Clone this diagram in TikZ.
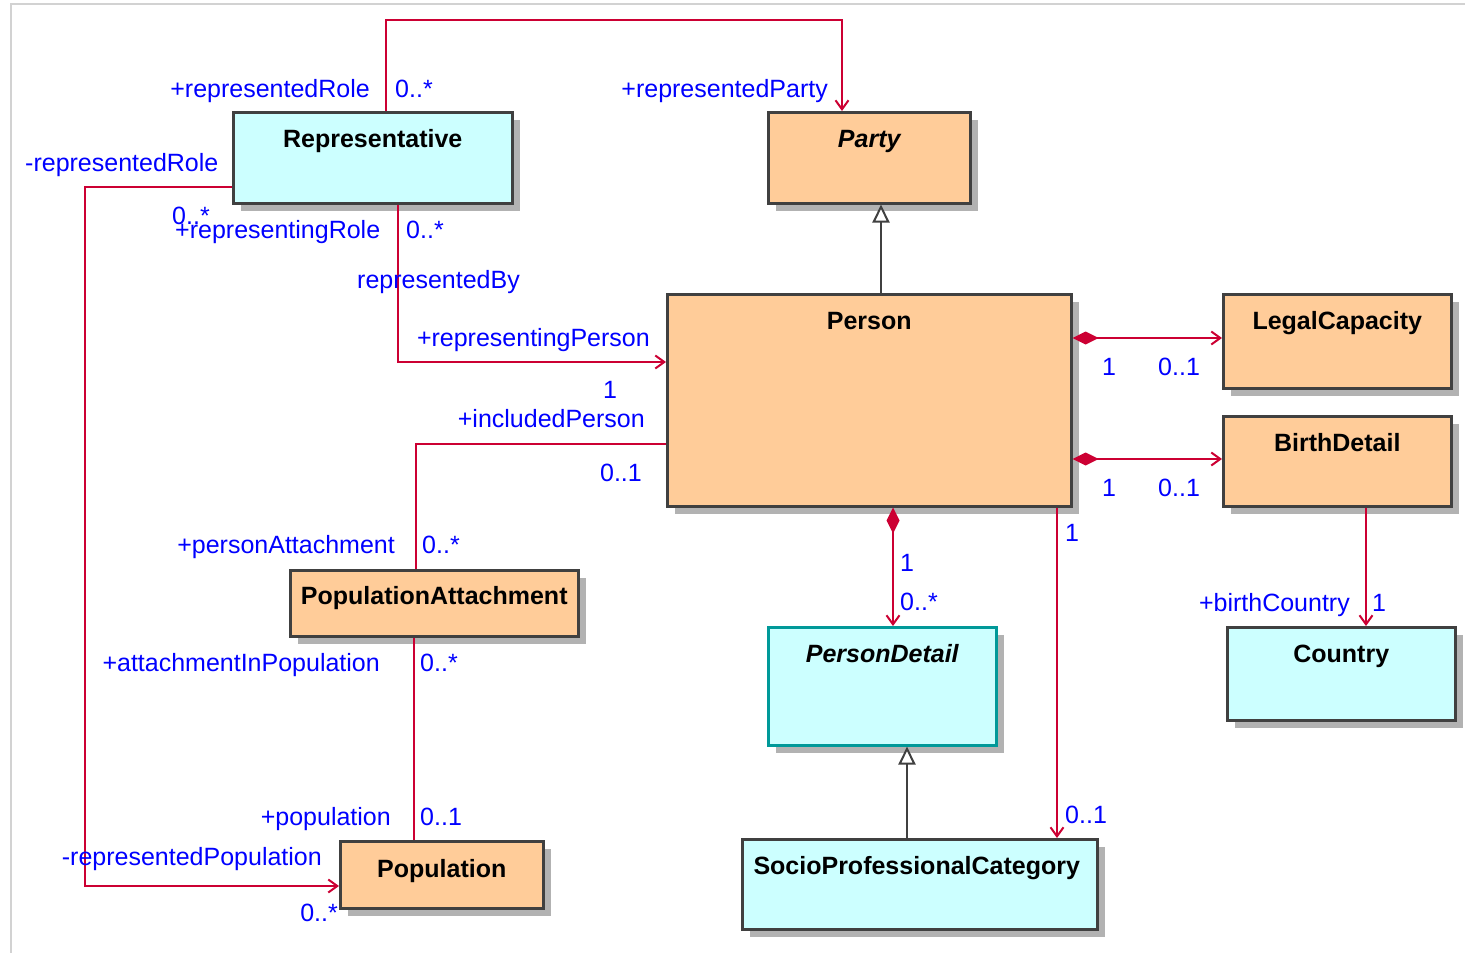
\documentclass[tikz,border=0pt]{standalone}
\usepackage{fontspec}
\setmainfont{Liberation Sans}
\usetikzlibrary{arrows.meta,shadows,calc}
\definecolor{orangefill}{HTML}{FFCC99}
\definecolor{cyanfill}{HTML}{CCFFFF}
\definecolor{boxline}{HTML}{404040}
\definecolor{assoccol}{HTML}{CC0033}
\definecolor{lblue}{HTML}{0000FF}
\definecolor{tealline}{HTML}{009999}
\definecolor{shadowgray}{HTML}{B2B2B2}
\begin{document}
\begin{tikzpicture}[x=1pt,y=-1pt,
  cls/.style={draw=boxline, line width=2.5pt, anchor=north west, inner sep=0pt,
    drop shadow={shadow xshift=8pt, shadow yshift=-8pt, fill=shadowgray, opacity=1}},
  orangebox/.style={cls, fill=orangefill},
  cyanbox/.style={cls, fill=cyanfill},
  title/.style={anchor=base, inner sep=0pt, font=\bfseries\fontsize{25}{30}\selectfont},
  ititle/.style={title, font=\bfseries\itshape\fontsize{25}{30}\selectfont},
  lbl/.style={inner sep=0pt, text=lblue, font=\fontsize{25}{30}\selectfont},
  lw/.style={lbl, anchor=base west},
  le/.style={lbl, anchor=base east},
  assoc/.style={draw=assoccol, line width=2pt},
  nav/.style={assoc, -{Straight Barb[length=9pt,width=13pt]}},
  comp/.style={assoc, {Diamond[length=26pt,width=13pt]}-{Straight Barb[length=9pt,width=13pt]}},
  gen/.style={draw=boxline, line width=2pt, -{Triangle[length=18pt,width=17pt,fill=white]}}
]
\useasboundingbox (0,0) rectangle (1465,953);
\fill[white] (0,0) rectangle (1465,953);
\draw[gray!35, line width=1.2pt] (11,953) -- (11,4) -- (1465,4);

% classes
\node[cyanbox, minimum width=279pt, minimum height=91pt] (rep) at (232,111) {};
\node[title] (rep-t) at ($(rep.north)+(0,36)$) {Representative};
\node[orangebox, minimum width=202pt, minimum height=91pt] (party) at (767,111) {};
\node[ititle] (party-t) at ($(party.north)+(0,36)$) {Party};
\node[orangebox, minimum width=404pt, minimum height=212pt] (person) at (666,293) {};
\node[title] (person-t) at ($(person.north)+(0,36)$) {Person};
\node[orangebox, minimum width=228pt, minimum height=94pt] (legal) at (1222,293) {};
\node[title] (legal-t) at ($(legal.north)+(0,36)$) {LegalCapacity};
\node[orangebox, minimum width=228pt, minimum height=90pt] (birth) at (1222,415) {};
\node[title] (birth-t) at ($(birth.north)+(0,36)$) {BirthDetail};
\node[orangebox, minimum width=288pt, minimum height=66pt] (pa) at (289,569) {};
\node[title] (pa-t) at ($(pa.north)+(0,35)$) {PopulationAttachment};
\node[orangebox, minimum width=203pt, minimum height=67pt] (pop) at (339,840) {};
\node[title] (pop-t) at ($(pop.north)+(0,37)$) {Population};
\node[cyanbox, draw=tealline, minimum width=228pt, minimum height=118pt] (pdet) at (767,626) {};
\node[ititle] (pdet-t) at ($(pdet.north)+(0,36)$) {PersonDetail};
\node[cyanbox, minimum width=355pt, minimum height=90pt] (spc) at (741,838) {};
\node[title] (spc-t) at ($(spc.north)+(-3,36)$) {SocioProfessionalCategory};
\node[cyanbox, minimum width=228pt, minimum height=93pt] (country) at (1226,626) {};
\node[title] (country-t) at ($(country.north)+(0,36)$) {Country};

% bend points
\coordinate (b1) at (386,20);
\coordinate (b2) at (842,20);
\coordinate (b3) at (85,187);
\coordinate (b4) at (85,886);
\coordinate (b5) at (398,362);
\coordinate (b6) at (416,444);
\coordinate (b7) at (414,0);
\coordinate (g1) at (881,0);
\coordinate (g2) at (907,0);
\coordinate (h1) at (0,338);
\coordinate (h2) at (0,459);
\coordinate (v1) at (893,0);
\coordinate (v2) at (1057,0);
\coordinate (v3) at (1366,0);

% connectors
\draw[nav] (rep.north -| b1) -- (b1) -- (b2) -- (party.north -| b2);
\draw[nav] (rep.west |- b3) -- (b3) -- (b4) -- (pop.west |- b4);
\draw[nav] (rep.south -| b5) -- (b5) -- (person.west |- b5);
\draw[assoc] (person.west |- b6) -- (b6) -- (pa.north -| b6);
\draw[assoc] (pa.south -| b7) -- (pop.north -| b7);
\draw[gen] (person.north -| g1) -- (party.south -| g1);
\draw[gen] (spc.north -| g2) -- (pdet.south -| g2);
\draw[comp] (person.east |- h1) -- (legal.west |- h1);
\draw[comp] (person.east |- h2) -- (birth.west |- h2);
\draw[comp] (person.south -| v1) -- (pdet.north -| v1);
\draw[nav] (person.south -| v2) -- (spc.north -| v2);
\draw[nav] (birth.south -| v3) -- (country.north -| v3);

% labels
\node[le] (l1) at (370,97) {+representedRole};
\node[lw] (l2) at (395,97) {0..*};
\node[le] (l3) at (828,97) {+representedParty};
\node[lw] (l4) at (25,171) {-representedRole};
\node[lw] (l5) at (172,224) {0..*};
\node[lw] (l6) at (175,238) {+representingRole};
\node[lw] (l7) at (406,238) {0..*};
\node[lw] (l8) at (357,288) {representedBy};
\node[le] (l9) at (650,346) {+representingPerson};
\node[lw] (l10) at (603,398) {1};
\node[le] (l11) at (645,427) {+includedPerson};
\node[le] (l12) at (642,481) {0..1};
\node[le] (l13) at (395,553) {+personAttachment};
\node[lw] (l14) at (422,553) {0..*};
\node[le] (l15) at (380,671) {+attachmentInPopulation};
\node[lw] (l16) at (420,671) {0..*};
\node[le] (l17) at (391,825) {+population};
\node[lw] (l18) at (420,825) {0..1};
\node[le] (l19) at (322,865) {-representedPopulation};
\node[le] (l20) at (338,921) {0..*};
\node[lw] (l21) at (1102,375) {1};
\node[lw] (l22) at (1158,375) {0..1};
\node[lw] (l23) at (1102,496) {1};
\node[lw] (l24) at (1158,496) {0..1};
\node[lw] (l25) at (900,571) {1};
\node[lw] (l26) at (900,610) {0..*};
\node[lw] (l27) at (1065,541) {1};
\node[lw] (l28) at (1065,823) {0..1};
\node[le] (l29) at (1350,611) {+birthCountry};
\node[lw] (l30) at (1372,611) {1};
\end{tikzpicture}
\end{document}
